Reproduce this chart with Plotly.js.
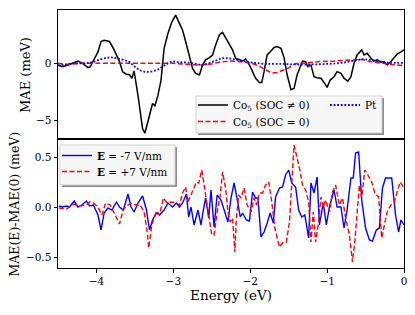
<!DOCTYPE html>
<html><head><meta charset="utf-8">
<script src="https://cdn.plot.ly/plotly-3.0.1.min.js"></script>
<style>html,body{margin:0;padding:0;background:#fff}#chart{width:415px;height:315px}</style>
</head><body><div id="chart"></div>
<script>
// ---- top panel: MAE (meV)
const E_co = [-4.50,-4.44,-4.35,-4.24,-4.18,-4.11,-4.08,-4.03,-3.98,-3.94,-3.90,-3.83,-3.77,-3.70,-3.66,-3.61,-3.57,-3.54,-3.51,-3.46,-3.43,-3.40,-3.37,-3.33,-3.29,-3.27,-3.24,-3.20,-3.16,-3.12,-3.07,-3.02,-2.97,-2.92,-2.88,-2.84,-2.79,-2.75,-2.71,-2.66,-2.62,-2.58,-2.53,-2.49,-2.45,-2.40,-2.36,-2.32,-2.27,-2.23,-2.19,-2.14,-2.10,-2.06,-2.01,-1.97,-1.93,-1.88,-1.85,-1.82,-1.78,-1.73,-1.69,-1.65,-1.60,-1.56,-1.52,-1.47,-1.43,-1.39,-1.32,-1.28,-1.25,-1.21,-1.17,-1.13,-1.08,-1.04,-1.00,-0.96,-0.91,-0.87,-0.82,-0.78,-0.73,-0.69,-0.65,-0.61,-0.55,-0.52,-0.48,-0.43,-0.39,-0.35,-0.30,-0.26,-0.22,-0.17,-0.13,-0.09,-0.04,0.00];
const MAE_co = [-0.15,-0.30,-0.10,0.20,0.00,-0.38,-0.30,0.30,1.00,1.90,2.00,1.90,1.17,0.15,-0.73,-0.96,-1.00,-1.30,-0.67,-2.80,-4.50,-5.70,-6.10,-5.10,-3.95,-3.50,-3.70,-2.80,-1.46,1.30,2.60,3.60,4.20,3.40,2.90,1.90,0.70,-0.44,-0.88,-1.00,-0.15,0.30,0.50,0.73,1.60,2.50,2.70,2.20,1.60,1.17,0.44,0.30,0.20,0.38,-0.15,-0.73,-1.30,-1.67,-1.67,-0.73,0.73,1.08,1.38,1.46,1.30,0.50,-1.00,-2.30,-2.20,-1.00,0.20,0.15,-0.30,-0.15,-1.17,-1.25,-1.30,-1.67,-2.10,-1.46,-1.17,-0.73,-0.88,-1.30,-1.55,-1.17,0.00,0.73,1.17,0.73,0.88,0.44,0.20,0.30,0.10,0.15,-0.15,0.15,0.50,0.80,1.00,1.17];

const E_co0 = [-4.50,-4.40,-4.20,-4.00,-3.50,-3.00,-2.80,-2.65,-2.50,-2.40,-2.25,-2.10,-2.00,-1.90,-1.80,-1.72,-1.65,-1.58,-1.50,-1.42,-1.30,-1.10,-0.90,-0.70,-0.55,-0.45,-0.30,-0.15,0.00];
const MAE_co0 = [0.00,-0.10,0.00,0.00,0.00,0.00,-0.10,-0.15,-0.05,0.10,0.20,0.10,0.05,-0.20,-0.60,-0.85,-0.80,-0.60,-0.40,-0.05,0.05,0.15,0.20,0.25,0.35,0.15,0.00,-0.10,-0.20];

const E_pt = [-4.50,-4.40,-4.30,-4.15,-4.05,-3.95,-3.85,-3.78,-3.68,-3.58,-3.50,-3.42,-3.33,-3.22,-3.12,-3.02,-2.92,-2.80,-2.70,-2.62,-2.50,-2.35,-2.25,-2.10,-1.95,-1.80,-1.60,-1.40,-1.20,-1.00,-0.80,-0.60,-0.50,-0.35,-0.20,0.00];
const MAE_pt = [-0.20,-0.10,0.00,0.00,0.10,0.35,0.50,0.50,0.35,0.15,-0.30,-0.65,-0.75,-0.60,-0.20,0.15,0.10,0.05,-0.05,-0.15,0.10,0.45,0.40,0.20,0.05,-0.05,-0.05,-0.10,-0.10,-0.05,0.05,0.30,0.35,0.20,0.05,0.05];

// ---- bottom panel: MAE(E)-MAE(0) (meV)
const E_m7 = [-4.49,-4.44,-4.39,-4.35,-4.29,-4.24,-4.19,-4.13,-4.09,-4.04,-3.98,-3.94,-3.90,-3.85,-3.80,-3.74,-3.70,-3.65,-3.59,-3.55,-3.51,-3.46,-3.40,-3.35,-3.31,-3.27,-3.22,-3.18,-3.12,-3.07,-3.01,-2.96,-2.92,-2.88,-2.83,-2.80,-2.77,-2.73,-2.68,-2.64,-2.61,-2.58,-2.54,-2.51,-2.47,-2.43,-2.38,-2.34,-2.29,-2.25,-2.21,-2.16,-2.13,-2.10,-2.05,-2.01,-1.97,-1.93,-1.90,-1.86,-1.82,-1.78,-1.74,-1.70,-1.67,-1.62,-1.58,-1.54,-1.50,-1.46,-1.41,-1.37,-1.33,-1.29,-1.24,-1.21,-1.17,-1.13,-1.10,-1.05,-1.01,-0.97,-0.91,-0.87,-0.82,-0.78,-0.74,-0.69,-0.66,-0.63,-0.59,-0.55,-0.50,-0.45,-0.41,-0.36,-0.32,-0.28,-0.24,-0.16,-0.11,-0.07,-0.04,0.00];
const dMAE_m7 = [0.01,0.00,0.01,0.00,0.06,0.00,0.02,0.06,0.01,0.02,-0.08,-0.23,-0.06,-0.01,-0.03,0.05,0.00,-0.03,0.13,0.00,-0.05,0.04,0.11,-0.03,-0.23,-0.13,-0.06,-0.08,-0.03,0.04,0.00,0.04,0.00,0.04,0.13,-0.10,0.00,-0.18,-0.03,-0.18,-0.03,0.09,-0.11,0.17,-0.20,0.12,0.07,-0.03,-0.15,0.09,0.24,0.04,-0.10,-0.06,-0.13,-0.14,0.15,0.09,0.09,-0.30,-0.25,-0.16,-0.06,-0.16,0.10,0.19,0.20,0.32,0.37,0.24,0.20,-0.03,-0.10,-0.08,-0.31,0.24,0.14,0.30,-0.18,0.04,-0.18,0.00,0.17,0.00,0.00,-0.21,-0.03,0.29,0.29,0.54,0.55,0.07,-0.21,-0.33,-0.34,-0.23,-0.21,0.19,0.29,0.29,-0.08,-0.25,-0.13,-0.18];

const E_p7 = [-4.49,-4.39,-4.29,-4.22,-4.13,-4.09,-4.04,-3.98,-3.93,-3.88,-3.82,-3.76,-3.70,-3.65,-3.59,-3.54,-3.49,-3.43,-3.38,-3.34,-3.32,-3.28,-3.22,-3.18,-3.13,-3.08,-3.03,-2.96,-2.92,-2.88,-2.84,-2.81,-2.76,-2.70,-2.67,-2.63,-2.58,-2.53,-2.50,-2.47,-2.43,-2.39,-2.36,-2.32,-2.29,-2.26,-2.23,-2.20,-2.18,-2.15,-2.12,-2.08,-2.04,-1.99,-1.95,-1.92,-1.88,-1.84,-1.80,-1.76,-1.72,-1.68,-1.62,-1.57,-1.53,-1.49,-1.46,-1.43,-1.40,-1.36,-1.32,-1.28,-1.24,-1.21,-1.18,-1.15,-1.11,-1.08,-1.05,-1.02,-0.97,-0.93,-0.89,-0.84,-0.80,-0.76,-0.71,-0.67,-0.64,-0.61,-0.58,-0.55,-0.51,-0.47,-0.42,-0.38,-0.33,-0.29,-0.26,-0.22,-0.17,-0.13,-0.09,-0.05,0.00];
const dMAE_p7 = [-0.01,-0.02,0.03,0.01,0.02,0.05,0.04,0.00,-0.08,0.04,0.02,-0.08,-0.17,-0.02,0.02,0.04,0.02,0.02,-0.05,-0.25,-0.41,-0.18,-0.04,-0.08,0.09,0.04,0.05,0.04,0.02,0.14,0.20,0.05,0.15,0.25,0.24,0.37,0.12,-0.11,-0.28,-0.28,-0.05,0.12,0.35,0.19,-0.05,-0.15,-0.11,-0.45,-0.11,0.12,0.09,0.19,0.02,-0.05,0.09,0.02,0.14,0.14,0.22,0.25,0.05,-0.21,-0.40,-0.35,-0.35,-0.15,0.25,0.62,0.52,0.39,0.22,0.17,0.05,-0.35,-0.05,-0.35,-0.15,0.10,0.00,0.07,-0.05,0.15,0.22,0.02,0.09,-0.11,-0.28,-0.55,-0.35,-0.05,0.22,0.09,0.37,0.32,0.25,0.14,0.10,-0.31,-0.21,-0.05,0.02,0.04,0.15,0.25,0.19];

// ---- ticks and labels
const xTickVals = [-4,-3,-2,-1,0];
const xTickText = ['\u22124','\u22123','\u22122','\u22121','0'];
const yTopTickVals = [-5,0];
const yTopTickText = ['\u22125','0'];
const yBotTickVals = [-0.5,0,0.5];
const yBotTickText = ['\u22120.5','0.0','0.5'];
const names = ['Co<sub>5</sub> (SOC \u2260 0)','Co<sub>5</sub> (SOC = 0)','Pt','<b>E</b> = -7 V/nm','<b>E</b> = +7 V/nm'];
const xTitle = 'Energy (eV)';
const yTopTitle = 'MAE (meV)';
const yBotTitle = 'MAE(E)-MAE(0) (meV)';

const FONT = 'DejaVu Serif';
const traces = [
  {x:E_co, y:MAE_co, xaxis:'x2', yaxis:'y2', mode:'lines', name:names[0], legend:'legend', line:{color:'#000', width:1.5}},
  {x:E_co0, y:MAE_co0, xaxis:'x2', yaxis:'y2', mode:'lines', name:names[1], legend:'legend2', line:{color:'#ff0000', width:1.5, dash:'5px,2.5px'}},
  {x:E_pt, y:MAE_pt, xaxis:'x2', yaxis:'y2', mode:'lines', name:names[2], legend:'legend3', line:{color:'#0000ff', width:1.8, dash:'1.8px,1.8px', shape:'spline'}},
  {x:E_m7, y:dMAE_m7, xaxis:'x', yaxis:'y', mode:'lines', name:names[3], legend:'legend4', line:{color:'#0000ff', width:1.4}},
  {x:E_p7, y:dMAE_p7, xaxis:'x', yaxis:'y', mode:'lines', name:names[4], legend:'legend5', line:{color:'#ff0000', width:1.4, dash:'5px,2.5px'}}
];

// geometry helpers (paper coords)
const L=58, R=11, T=10, B=47, W=415, H=315;
const pw=W-L-R, ph=H-T-B;
const px=(v)=>(v-L)/pw, py=(v)=>(H-B-v)/ph;

function leg(xpx, ypx){
  return {x:px(xpx), y:py(ypx), xanchor:'left', yanchor:'middle', bgcolor:'rgba(0,0,0,0)', borderwidth:0,
          font:{family:FONT, size:10.5, color:'#000'}, itemwidth:30};
}

function boxShapes(x0,y0,x1,y1){
  return [
    {type:'rect', xref:'paper', yref:'paper', x0:px(x0+2), y0:py(y1+2), x1:px(x1+2), y1:py(y0+2), layer:'above',
     fillcolor:'rgba(0,0,0,0.45)', line:{width:0}},
    {type:'rect', xref:'paper', yref:'paper', x0:px(x0), y0:py(y1), x1:px(x1), y1:py(y0), layer:'above',
     fillcolor:'rgba(255,255,255,0.92)', line:{color:'#cccccc', width:1}}
  ];
}

const axCommon = {showline:true, linecolor:'#000', linewidth:1, mirror:true, showgrid:false, zeroline:false,
                  ticks:'outside', ticklen:3.5, tickwidth:1, tickcolor:'#000',
                  tickfont:{family:FONT, size:10.5, color:'#000'}};

const layout = {
  width:W, height:H, margin:{l:L, r:R, t:T, b:B, pad:0},
  paper_bgcolor:'#fff', plot_bgcolor:'#fff',
  font:{family:FONT, color:'#000'},
  showlegend:true,
  xaxis: Object.assign({}, axCommon, {domain:[0,1], anchor:'y', range:[-4.5,0], tickmode:'array',
          tickvals:xTickVals, ticktext:xTickText,
          title:{text:xTitle, font:{family:FONT, size:13.5, color:'#000'}, standoff:3}}),
  xaxis2: Object.assign({}, axCommon, {domain:[0,1], anchor:'y2', matches:'x', range:[-4.5,0],
          showticklabels:false, ticks:''}),
  yaxis: Object.assign({}, axCommon, {domain:[0,0.5], anchor:'x', range:[-0.61,0.68], tickmode:'array',
          tickvals:yBotTickVals, ticktext:yBotTickText}),
  yaxis2: Object.assign({}, axCommon, {domain:[0.5,1], anchor:'x2', range:[-6.6,4.65], tickmode:'array',
          tickvals:yTopTickVals, ticktext:yTopTickText}),
  annotations: [
    {text:yTopTitle, xref:'paper', yref:'paper', x:px(25), y:py(75), xanchor:'center', yanchor:'middle',
     textangle:-90, showarrow:false, font:{family:FONT, size:13, color:'#000'}},
    {text:yBotTitle, xref:'paper', yref:'paper', x:px(13.5), y:py(204), xanchor:'center', yanchor:'middle',
     textangle:-90, showarrow:false, font:{family:FONT, size:12.5, color:'#000'}}
  ],
  legend: leg(193,105),
  legend2: leg(193,121.5),
  legend3: leg(325,105),
  legend4: leg(57,155.5),
  legend5: leg(57,171.5),
  shapes: [].concat(boxShapes(196,96,382,133), boxShapes(60,145,175,185))
};

Plotly.newPlot('chart', traces, layout, {staticPlot:true, displayModeBar:false});
</script>
</body></html>
